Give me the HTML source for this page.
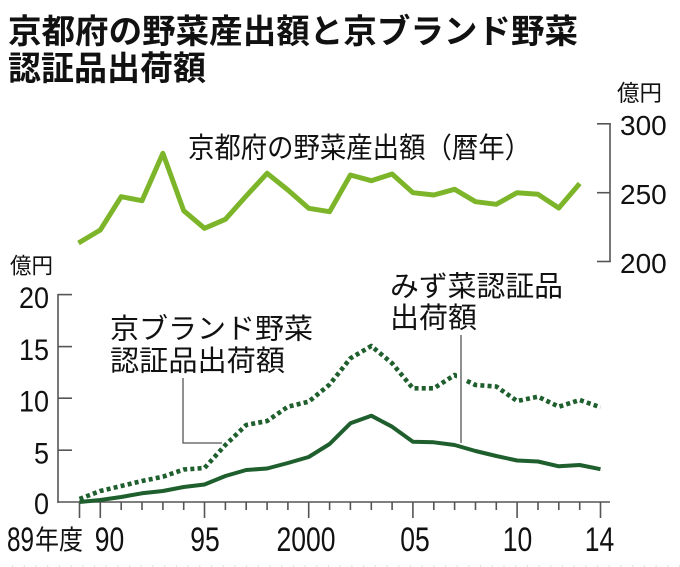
<!DOCTYPE html>
<html>
<head>
<meta charset="utf-8">
<style>
html,body{margin:0;padding:0;background:#fff;}
svg{display:block;}
.jp{font-family:"Liberation Sans","Noto Sans CJK JP",sans-serif;fill:#111;}
.num{font-family:"Liberation Sans",sans-serif;fill:#111;}
</style>
</head>
<body>
<svg width="680" height="567" viewBox="0 0 680 567" xmlns="http://www.w3.org/2000/svg">
<rect width="680" height="567" fill="#fff"/>

<!-- Title -->
<text class="jp" x="8" y="43" font-size="33.5" font-weight="700" textLength="570" lengthAdjust="spacingAndGlyphs">京都府の野菜産出額と京ブランド野菜</text>
<text class="jp" x="8" y="80" font-size="33.5" font-weight="700" textLength="198" lengthAdjust="spacingAndGlyphs">認証品出荷額</text>

<!-- Right axis (upper chart) -->
<text class="jp" x="617" y="101" font-size="22.5" textLength="45" lengthAdjust="spacingAndGlyphs">億円</text>
<g stroke="#555" stroke-width="1.6" fill="none">
  <line x1="610" y1="123.3" x2="610" y2="262"/>
  <line x1="597" y1="123.8" x2="610.8" y2="123.8"/>
  <line x1="597" y1="192.7" x2="610" y2="192.7"/>
  <line x1="597" y1="261.5" x2="610.8" y2="261.5"/>
</g>
<text class="num" x="620" y="135" font-size="28">300</text>
<text class="num" x="620" y="204" font-size="28">250</text>
<text class="num" x="620" y="273" font-size="28">200</text>

<!-- Upper series label -->
<text class="jp" x="188" y="157.5" font-size="28.5" textLength="343" lengthAdjust="spacingAndGlyphs">京都府の野菜産出額（暦年）</text>

<!-- Upper series -->
<polyline fill="none" stroke="#7db52a" stroke-width="5" stroke-linejoin="round" stroke-linecap="butt"
points="78.5,243 100.3,230 121.2,196.7 142,200.7 162.9,153.3 183.7,210.7 204.5,228.3 225.4,219.3 246.2,196 267.1,173.3 287.9,190 308.7,208.3 329.6,211.7 350.4,175 371.3,180.7 392.1,174 412.9,192.7 433.8,195 454.6,189.3 475.5,201.7 496.3,204.3 517.1,192.7 538,194.3 558.8,208 579.7,183.5"/>

<!-- Lower chart axes -->
<text class="jp" x="10" y="273.5" font-size="22" textLength="43" lengthAdjust="spacingAndGlyphs">億円</text>
<g stroke="#555" stroke-width="1.6" fill="none">
  <line x1="58" y1="294" x2="58" y2="502.8"/>
  <line x1="57.2" y1="502" x2="610" y2="502"/>
  <line x1="58" y1="294.6" x2="72" y2="294.6"/>
  <line x1="58" y1="346.6" x2="72" y2="346.6"/>
  <line x1="58" y1="398.2" x2="72" y2="398.2"/>
  <line x1="58" y1="450.2" x2="72" y2="450.2"/>
  <!-- x ticks -->
  <line x1="79.5" y1="502" x2="79.5" y2="518"/>
  <line x1="100.3" y1="502" x2="100.3" y2="518"/>
  <line x1="121.2" y1="502" x2="121.2" y2="510"/>
  <line x1="142" y1="502" x2="142" y2="510"/>
  <line x1="162.9" y1="502" x2="162.9" y2="510"/>
  <line x1="183.7" y1="502" x2="183.7" y2="510"/>
  <line x1="204.5" y1="502" x2="204.5" y2="518"/>
  <line x1="225.4" y1="502" x2="225.4" y2="510"/>
  <line x1="246.2" y1="502" x2="246.2" y2="510"/>
  <line x1="267.1" y1="502" x2="267.1" y2="510"/>
  <line x1="287.9" y1="502" x2="287.9" y2="510"/>
  <line x1="308.7" y1="502" x2="308.7" y2="518"/>
  <line x1="329.6" y1="502" x2="329.6" y2="510"/>
  <line x1="350.4" y1="502" x2="350.4" y2="510"/>
  <line x1="371.3" y1="502" x2="371.3" y2="510"/>
  <line x1="392.1" y1="502" x2="392.1" y2="510"/>
  <line x1="412.9" y1="502" x2="412.9" y2="518"/>
  <line x1="433.8" y1="502" x2="433.8" y2="510"/>
  <line x1="454.6" y1="502" x2="454.6" y2="510"/>
  <line x1="475.5" y1="502" x2="475.5" y2="510"/>
  <line x1="496.3" y1="502" x2="496.3" y2="510"/>
  <line x1="517.1" y1="502" x2="517.1" y2="518"/>
  <line x1="538" y1="502" x2="538" y2="510"/>
  <line x1="558.8" y1="502" x2="558.8" y2="510"/>
  <line x1="579.7" y1="502" x2="579.7" y2="510"/>
  <line x1="600.5" y1="502" x2="600.5" y2="518"/>
</g>

<!-- Left axis labels -->
<g class="num" font-size="30" text-anchor="end">
  <text transform="translate(49,308) scale(0.9,1)">20</text>
  <text transform="translate(49,360) scale(0.9,1)">15</text>
  <text transform="translate(49,411.5) scale(0.9,1)">10</text>
  <text transform="translate(49,463.5) scale(0.9,1)">5</text>
  <text transform="translate(49,514) scale(0.9,1)">0</text>
</g>

<!-- X labels -->
<text class="num" x="7" y="551" font-size="34" textLength="27" lengthAdjust="spacingAndGlyphs">89</text>
<text class="jp" x="35" y="549.5" font-size="27" textLength="48" lengthAdjust="spacingAndGlyphs">年度</text>
<g class="num" font-size="34" text-anchor="middle">
  <text transform="translate(109.5,551) scale(0.78,1)">90</text>
  <text transform="translate(205,551) scale(0.78,1)">95</text>
  <text transform="translate(306,551) scale(0.78,1)">2000</text>
  <text transform="translate(415,551) scale(0.78,1)">05</text>
  <text transform="translate(517.5,551) scale(0.78,1)">10</text>
  <text transform="translate(599.5,551) scale(0.78,1)">14</text>
</g>

<!-- Lower series labels -->
<text class="jp" x="110" y="338.3" font-size="28.5" textLength="203" lengthAdjust="spacingAndGlyphs">京ブランド野菜</text>
<text class="jp" x="110" y="370.3" font-size="28.5" textLength="175" lengthAdjust="spacingAndGlyphs">認証品出荷額</text>
<text class="jp" x="390" y="295.8" font-size="28.5" textLength="173" lengthAdjust="spacingAndGlyphs">みず菜認証品</text>
<text class="jp" x="390" y="327.3" font-size="28.5" textLength="87" lengthAdjust="spacingAndGlyphs">出荷額</text>

<!-- Dotted series (Kyo brand) -->
<polyline fill="none" stroke="#1e5f2d" stroke-width="4.6" stroke-dasharray="4 3.2" stroke-linejoin="round"
points="79.5,499 100.3,491 121.2,486 142,481 162.9,476.7 183.7,469.5 204.5,468 225.4,445 246.2,425 267.1,421 287.9,406.7 308.7,401.7 329.6,384.5 350.4,358.3 371.3,346 392.1,363.3 412.9,388.3 433.8,388.3 454.6,375 475.5,385 496.3,386.5 517.1,401 538,396.7 558.8,406.7 579.7,400 600.5,407.3"/>

<!-- Solid series (mizuna) -->
<polyline fill="none" stroke="#1e5f2d" stroke-width="4" stroke-linejoin="round"
points="79.5,502 100.3,500 121.2,497 142,493.3 162.9,491 183.7,487 204.5,484.5 225.4,476 246.2,470 267.1,468.5 287.9,463 308.7,457 329.6,444 350.4,423.3 371.3,415.7 392.1,426.7 412.9,441.7 433.8,442.3 454.6,445 475.5,451 496.3,456 517.1,460.5 538,461.5 558.8,466.3 579.7,465 600.5,469.2"/>

<!-- Leader lines -->
<rect x="457" y="366" width="8" height="24" fill="#fff"/>
<g stroke="#555" stroke-width="1.3" fill="none">
  <polyline points="183,378 183,443 222,443"/>
  <line x1="461" y1="335" x2="461" y2="443"/>
</g>

<!-- faint bottom dotted line -->
<line x1="12" y1="566" x2="680" y2="566" stroke="#c8c8c8" stroke-width="1" stroke-dasharray="1.2 10.5"/>
</svg>
</body>
</html>
